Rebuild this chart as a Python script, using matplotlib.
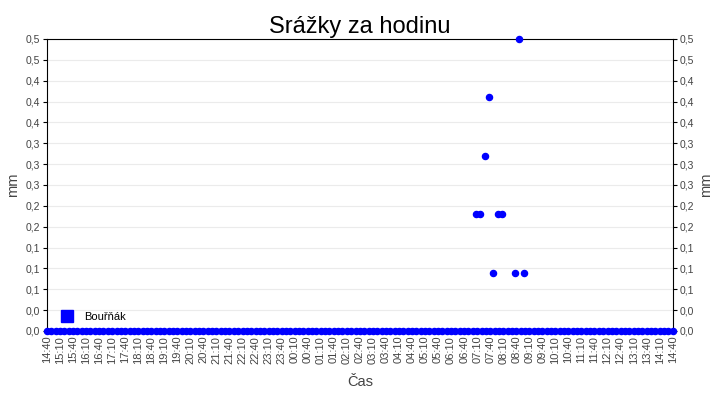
import math
import numpy as np
import pandas as pd
import matplotlib
matplotlib.use("Agg")
import matplotlib.pyplot as plt
from matplotlib.ticker import FuncFormatter

# measurements every 10 minutes, 14:40 -> 14:40 next day (all 0,0 mm)
times = pd.date_range("2024-06-01 14:40", "2024-06-02 14:40", freq="10min")
zeros = np.zeros(len(times))
# non-zero readings of the gauge
rain_at = ["07:07", "07:17", "07:27", "07:37", "07:47", "07:57", "08:07",
           "08:37", "08:47", "08:57"]
rain_mm = [0.2, 0.2, 0.3, 0.4, 0.1, 0.2, 0.2, 0.1, 0.5, 0.1]
series_name = "Bouřňák"

rain_times = pd.to_datetime(["2024-06-02 " + t for t in rain_at])
minutes = (times - times[0]).total_seconds() / 60.0
rain_minutes = (rain_times - times[0]).total_seconds() / 60.0
tick_minutes = minutes[::3]
tick_labels = [t.strftime("%H:%M") for t in times[::3]]

plt.rcParams['font.family'] = ['Liberation Sans', 'DejaVu Sans']
fig = plt.figure(figsize=(7.2, 4.0), dpi=100)
ax = fig.add_axes([47 / 720, 1 - 331 / 400, (672.7 - 47) / 720, (331 - 39) / 400])

blue = "#0000ff"
ax.plot(minutes, zeros, linestyle="none", marker="o", markersize=4.4,
        color=blue, clip_on=False, zorder=3)
ax.plot(rain_minutes, rain_mm, linestyle="none", marker="o", markersize=4.4,
        color=blue, clip_on=False, zorder=3)

ax.set_xlim(minutes[0], minutes[-1])
ax.set_ylim(0, 0.5)
ax.set_yticks(np.linspace(0, 0.5, 15))

def fmt(v, pos):
    return f"{math.floor(v * 10 + 0.5 + 1e-9) / 10:.1f}".replace(".", ",")

ax.yaxis.set_major_formatter(FuncFormatter(fmt))
ax.set_xticks(tick_minutes)
ax.set_xticklabels(tick_labels, rotation=90, fontsize=8, color="#444444")
ax.tick_params(axis="y", labelsize=7.5, labelcolor="#444444", length=3,
               right=True, labelright=True, pad=2)
ax.tick_params(axis="x", length=3, direction="inout", pad=2)

ax.grid(axis="y", color="#ebebeb", linewidth=0.8)
ax.set_axisbelow(True)
for s in ax.spines.values():
    s.set_color("black")

ax.set_ylabel("mm", fontsize=10.5, color="#444444", labelpad=4)
ax2 = ax.secondary_yaxis("right")
ax2.set_yticks([])
ax2.set_ylabel("mm", fontsize=10.5, color="#444444", labelpad=19)
ax2.spines["right"].set_visible(False)
ax.set_xlabel("Čas", fontsize=10.5, color="#444444", labelpad=8)
ax.set_title("Srážky za hodinu", fontsize=17, pad=4)

ax.legend(loc="lower left", frameon=False, fontsize=8, handletextpad=0.5,
          borderaxespad=0.4,
          handles=[plt.Line2D([], [], linestyle="none", marker="s",
                              color=blue, markersize=8, label=series_name)])

fig.savefig("out.png", dpi=100)
